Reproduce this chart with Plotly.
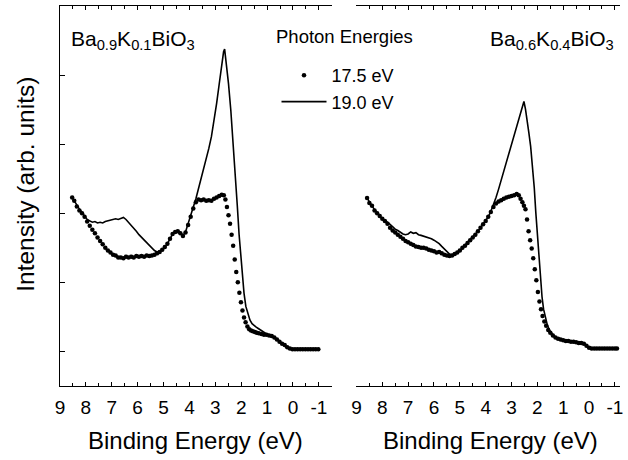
import plotly.graph_objects as go

# Binding energy (eV) and intensity (arb. units) for each composition / photon energy
K01_E_175 = [8.53, 8.45, 8.35, 8.25, 8.15, 8.05, 7.95, 7.85, 7.75, 7.65, 7.55, 7.45, 7.35, 7.25, 7.15,
             7.05, 6.95, 6.85, 6.75, 6.65, 6.55, 6.45, 6.35, 6.25, 6.15, 6.05, 5.95, 5.85, 5.75, 5.65,
             5.55, 5.45, 5.35, 5.25, 5.15, 5.05, 4.95, 4.85, 4.75, 4.65, 4.55, 4.45, 4.35, 4.25, 4.15,
             4.05, 3.95, 3.85, 3.75, 3.65, 3.55, 3.45, 3.35, 3.25, 3.15, 3.05, 2.95, 2.85, 2.75, 2.67,
             2.61, 2.55, 2.49, 2.43, 2.37, 2.31, 2.25, 2.19, 2.13, 2.07, 2.01, 1.95, 1.89, 1.83, 1.76,
             1.69, 1.62, 1.55, 1.47, 1.40, 1.32, 1.22, 1.12, 1.02, 0.92, 0.82, 0.72, 0.62, 0.52, 0.42,
             0.32, 0.22, 0.12, 0.02, -0.08, -0.18, -0.28, -0.38, -0.48, -0.58, -0.68, -0.78, -0.88, -0.98]
K01_I_175 = [2.24, 2.19, 2.11, 2.05, 2.01, 1.96, 1.89, 1.83, 1.77, 1.72, 1.66, 1.61, 1.56, 1.51, 1.47,
             1.44, 1.41, 1.40, 1.37, 1.37, 1.36, 1.38, 1.37, 1.38, 1.37, 1.39, 1.38, 1.39, 1.38, 1.40,
             1.39, 1.40, 1.41, 1.43, 1.45, 1.48, 1.52, 1.57, 1.64, 1.71, 1.74, 1.75, 1.72, 1.68, 1.73,
             1.84, 1.96, 2.08, 2.17, 2.21, 2.20, 2.21, 2.19, 2.20, 2.19, 2.22, 2.24, 2.26, 2.28, 2.27,
             2.21, 2.10, 1.98, 1.86, 1.70, 1.54, 1.34, 1.16, 1.01, 0.86, 0.72, 0.60, 0.50, 0.43, 0.37,
             0.33, 0.31, 0.30, 0.29, 0.28, 0.27, 0.26, 0.25, 0.25, 0.24, 0.23, 0.21, 0.18, 0.15, 0.12,
             0.10, 0.07, 0.05, 0.04, 0.04, 0.04, 0.04, 0.04, 0.04, 0.04, 0.04, 0.04, 0.04, 0.04]

K01_E_190 = [8.53, 8.45, 8.35, 8.25, 8.15, 8.05, 7.95, 7.85, 7.75, 7.65, 7.55, 7.45, 7.35, 7.25, 7.15,
             7.05, 6.95, 6.85, 6.75, 6.65, 6.55, 6.45, 6.35, 6.25, 6.15, 6.05, 5.95, 5.85, 5.75, 5.65,
             5.55, 5.45, 5.35, 5.25, 5.15, 5.05, 4.95, 4.85, 4.75, 4.65, 4.55, 4.45, 4.35, 4.25, 4.15,
             4.05, 3.95, 3.85, 3.75, 3.65, 3.55, 3.45, 3.35, 3.25, 3.15, 3.05, 2.95, 2.85, 2.75, 2.68,
             2.64, 2.58, 2.49, 2.40, 2.31, 2.22, 2.15, 2.08, 2.01, 1.95, 1.89, 1.82, 1.74, 1.66, 1.58,
             1.50, 1.42, 1.34, 1.22, 1.12, 1.02, 0.92, 0.82, 0.72, 0.62, 0.52, 0.42, 0.32, 0.22, 0.12,
             0.02, -0.08, -0.30, -0.50, -0.70, -0.90, -1.00]
K01_I_190 = [2.24, 2.19, 2.12, 2.07, 2.02, 1.97, 1.92, 1.90, 1.88, 1.89, 1.87, 1.88, 1.87, 1.89, 1.90,
             1.91, 1.92, 1.93, 1.92, 1.94, 1.95, 1.92, 1.88, 1.84, 1.80, 1.75, 1.70, 1.66, 1.62, 1.58,
             1.54, 1.50, 1.47, 1.45, 1.45, 1.48, 1.52, 1.57, 1.64, 1.71, 1.74, 1.76, 1.73, 1.69, 1.74,
             1.85, 1.98, 2.10, 2.22, 2.36, 2.50, 2.65, 2.80, 2.95, 3.12, 3.35, 3.60, 3.88, 4.20, 4.35,
             4.39, 4.22, 3.89, 3.50, 3.05, 2.55, 2.12, 1.70, 1.34, 1.05, 0.85, 0.66, 0.54, 0.46, 0.41,
             0.38, 0.36, 0.34, 0.31, 0.28, 0.26, 0.25, 0.24, 0.21, 0.18, 0.16, 0.13, 0.10, 0.07, 0.05,
             0.04, 0.04, 0.04, 0.04, 0.04, 0.04, 0.04]

K04_E_175 = [8.59, 8.5, 8.4, 8.3, 8.2, 8.1, 8.0, 7.9, 7.8, 7.7, 7.6, 7.5, 7.4, 7.3, 7.2, 7.1, 7.0,
             6.9, 6.8, 6.7, 6.6, 6.5, 6.4, 6.3, 6.2, 6.1, 6.0, 5.9, 5.8, 5.7, 5.6, 5.5, 5.4, 5.3, 5.2,
             5.1, 5.0, 4.9, 4.8, 4.7, 4.6, 4.5, 4.4, 4.3, 4.2, 4.1, 4.0, 3.9, 3.8, 3.7, 3.6, 3.5, 3.4,
             3.3, 3.2, 3.1, 3.0, 2.9, 2.8, 2.72, 2.65, 2.58, 2.52, 2.46, 2.40, 2.34, 2.28, 2.22, 2.16,
             2.10, 2.04, 1.98, 1.92, 1.86, 1.80, 1.73, 1.66, 1.58, 1.50, 1.40, 1.30, 1.20, 1.10, 1.00,
             0.90, 0.80, 0.70, 0.60, 0.50, 0.40, 0.30, 0.20, 0.10, 0.00, -0.10, -0.20, -0.30, -0.40,
             -0.50, -0.60, -0.70, -0.80, -0.90, -1.00, -1.08]
K04_I_175 = [2.23, 2.16, 2.12, 2.05, 2.01, 1.97, 1.93, 1.90, 1.86, 1.80, 1.76, 1.73, 1.70, 1.67, 1.64,
             1.61, 1.59, 1.57, 1.55, 1.53, 1.52, 1.51, 1.51, 1.50, 1.48, 1.47, 1.46, 1.44, 1.45, 1.43,
             1.41, 1.40, 1.39, 1.40, 1.42, 1.44, 1.47, 1.51, 1.54, 1.58, 1.62, 1.66, 1.70, 1.75, 1.80,
             1.85, 1.90, 1.96, 2.03, 2.10, 2.15, 2.18, 2.20, 2.22, 2.24, 2.25, 2.26, 2.27, 2.29, 2.27,
             2.22, 2.17, 2.12, 2.07, 1.92, 1.75, 1.62, 1.50, 1.36, 1.20, 1.04, 0.87, 0.73, 0.62, 0.52,
             0.44, 0.38, 0.32, 0.28, 0.24, 0.21, 0.19, 0.18, 0.17, 0.16, 0.16, 0.15, 0.15, 0.14, 0.13,
             0.13, 0.12, 0.09, 0.06, 0.05, 0.05, 0.05, 0.05, 0.05, 0.05, 0.05, 0.05, 0.05, 0.05, 0.05]

K04_E_190 = [8.59, 8.5, 8.4, 8.3, 8.2, 8.1, 8.0, 7.9, 7.8, 7.7, 7.6, 7.5, 7.4, 7.3, 7.2, 7.1, 7.0,
             6.9, 6.8, 6.7, 6.6, 6.5, 6.4, 6.3, 6.2, 6.1, 6.0, 5.9, 5.8, 5.7, 5.6, 5.5, 5.4, 5.3, 5.2,
             5.1, 5.0, 4.9, 4.8, 4.7, 4.6, 4.5, 4.4, 4.3, 4.2, 4.1, 4.0, 3.9, 3.8, 3.7, 3.6, 3.5, 3.4,
             3.3, 3.2, 3.1, 3.0, 2.9, 2.8, 2.7, 2.62, 2.56, 2.52, 2.46, 2.40, 2.33, 2.26, 2.19, 2.12,
             2.06, 2.00, 1.94, 1.88, 1.82, 1.76, 1.70, 1.62, 1.54, 1.45, 1.35, 1.25, 1.15, 1.05, 0.95,
             0.85, 0.75, 0.65, 0.55, 0.45, 0.35, 0.25, 0.15, 0.05, -0.05, -0.15, -0.30, -0.50, -0.70,
             -0.90, -1.08]
K04_I_190 = [2.23, 2.17, 2.12, 2.06, 2.01, 1.97, 1.93, 1.91, 1.88, 1.85, 1.81, 1.78, 1.76, 1.73, 1.71,
             1.70, 1.71, 1.74, 1.72, 1.73, 1.70, 1.69, 1.68, 1.66, 1.65, 1.64, 1.62, 1.60, 1.57, 1.53,
             1.49, 1.45, 1.42, 1.41, 1.42, 1.44, 1.47, 1.51, 1.54, 1.58, 1.62, 1.66, 1.70, 1.75, 1.80,
             1.85, 1.90, 1.96, 2.04, 2.13, 2.24, 2.36, 2.49, 2.62, 2.75, 2.87, 2.99, 3.12, 3.25, 3.38,
             3.50, 3.58, 3.63, 3.52, 3.38, 3.18, 2.98, 2.72, 2.38, 2.02, 1.68, 1.34, 1.05, 0.80, 0.62,
             0.52, 0.40, 0.32, 0.27, 0.23, 0.20, 0.19, 0.18, 0.17, 0.16, 0.16, 0.15, 0.15, 0.14, 0.13,
             0.13, 0.11, 0.08, 0.06, 0.05, 0.05, 0.05, 0.05, 0.05, 0.05]

for a, b in [(K01_E_175, K01_I_175), (K01_E_190, K01_I_190),
             (K04_E_175, K04_I_175), (K04_E_190, K04_I_190)]:
    assert len(a) == len(b), (len(a), len(b))

PHOTON_LABELS = ["17.5 eV", "19.0 eV"]
PANEL_TITLES = ["Ba<sub>0.9</sub>K<sub>0.1</sub>BiO<sub>3</sub>",
                "Ba<sub>0.6</sub>K<sub>0.4</sub>BiO<sub>3</sub>"]
X_TICKS = [9, 8, 7, 6, 5, 4, 3, 2, 1, 0, -1]
X_TICK_TEXT = ["9", "8", "7", "6", "5", "4", "3", "2", "1", "0", "-1"]
Y_TICKS = [0, 1, 2, 3, 4]

FONT = "Liberation Sans, Arial, Helvetica, sans-serif"
W, H = 628, 460

fig = go.Figure()

# 17.5 eV: dotted (markers); 19.0 eV: thin solid line
fig.add_trace(go.Scatter(x=K01_E_175, y=K01_I_175, mode="markers", name=PHOTON_LABELS[0],
                         marker=dict(color="black", size=4.5), xaxis="x", yaxis="y"))
fig.add_trace(go.Scatter(x=K01_E_190, y=K01_I_190, mode="lines", name=PHOTON_LABELS[1],
                         line=dict(color="black", width=1.6), xaxis="x", yaxis="y"))
fig.add_trace(go.Scatter(x=K04_E_175, y=K04_I_175, mode="markers", showlegend=False,
                         marker=dict(color="black", size=4.5), xaxis="x2", yaxis="y2"))
fig.add_trace(go.Scatter(x=K04_E_190, y=K04_I_190, mode="lines", showlegend=False,
                         line=dict(color="black", width=1.6), xaxis="x2", yaxis="y2"))

def px_x(p):
    return p / W

def px_y(p):
    return 1 - p / H

y_dom = [px_y(386), px_y(6)]
y_rng = [-0.493, 5.014]

xcommon = dict(
    showline=True, linecolor="black", linewidth=1, mirror="ticks",
    ticks="inside", ticklen=4, tickwidth=1, tickcolor="black",
    tickmode="array", tickvals=X_TICKS, ticktext=X_TICK_TEXT,
    minor=dict(ticks="inside", ticklen=3, tickwidth=1, tickcolor="black", dtick=0.5, tick0=0),
    showgrid=False, zeroline=False, ticklabelstandoff=4,
    tickfont=dict(family=FONT, size=19, color="black"),
)

fig.update_layout(
    width=W, height=H,
    margin=dict(l=0, r=0, t=0, b=0),
    paper_bgcolor="white", plot_bgcolor="white",
    font=dict(family=FONT, color="black"),
    xaxis=dict(domain=[px_x(55.7), px_x(331)], range=[9.0, -1.5], anchor="y", **xcommon),
    xaxis2=dict(domain=[px_x(356), px_x(623)], range=[9.0, -1.2], anchor="y2", **xcommon),
    yaxis=dict(domain=y_dom, range=y_rng, anchor="x", showline=True, linecolor="black",
               linewidth=1, ticks="inside", ticklen=5, tickcolor="black", tickvals=Y_TICKS,
               showticklabels=False, showgrid=False, zeroline=False),
    yaxis2=dict(domain=y_dom, range=y_rng, anchor="x2", showline=False, ticks="",
                showticklabels=False, showgrid=False, zeroline=False),
    legend=dict(x=px_x(275), y=px_y(57), xanchor="left", yanchor="top", itemwidth=45,
                bgcolor="rgba(0,0,0,0)", font=dict(family=FONT, size=18, color="black"),
                tracegroupgap=0),
    showlegend=True,
)

annotations = [
    dict(text=PANEL_TITLES[0], x=px_x(65), y=px_y(25), xanchor="left", yanchor="top"),
    dict(text=PANEL_TITLES[1], x=px_x(619), y=px_y(25), xanchor="right", yanchor="top"),
    dict(text="Photon Energies", x=px_x(272), y=px_y(36), xanchor="left", yanchor="middle",
         font=dict(family=FONT, size=18.5, color="black")),
    dict(text="Binding Energy (eV)", x=px_x(193), y=px_y(440), xanchor="center", yanchor="middle",
         font=dict(family=FONT, size=24, color="black")),
    dict(text="Binding Energy (eV)", x=px_x(492), y=px_y(440), xanchor="center", yanchor="middle",
         font=dict(family=FONT, size=24, color="black")),
    dict(text="Intensity (arb. units)", x=px_x(20), y=px_y(184), xanchor="center", yanchor="middle",
         textangle=-90, font=dict(family=FONT, size=24.5, color="black")),
]
for a in annotations:
    a.setdefault("font", dict(family=FONT, size=21, color="black"))
    a.update(xref="paper", yref="paper", showarrow=False)
fig.update_layout(annotations=annotations)

fig.write_html("out.html")
